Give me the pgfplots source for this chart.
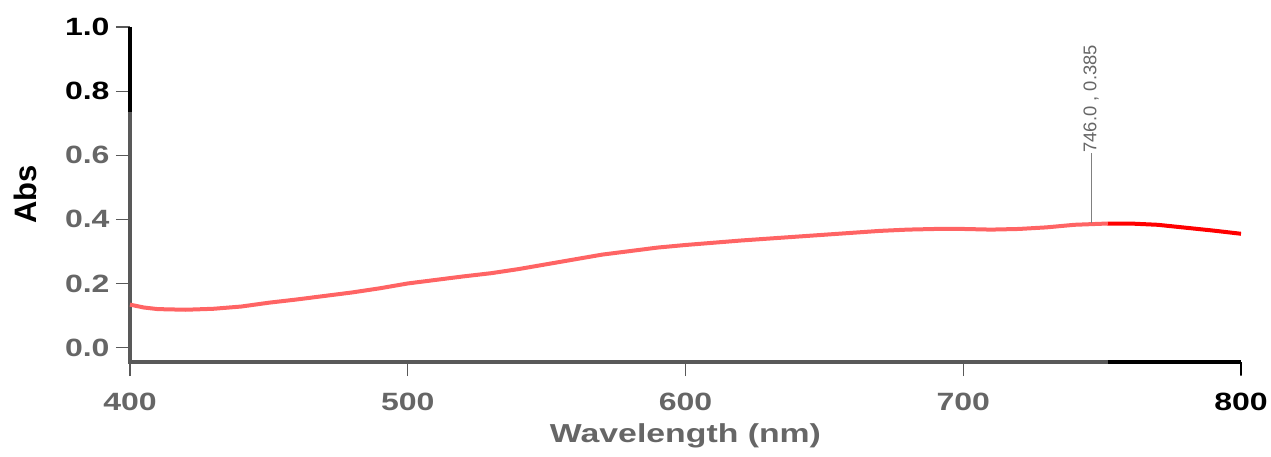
\documentclass[border=0pt]{standalone}
\usepackage{fontspec}
\setmainfont{Liberation Sans}
\usepackage{pgfplots}
\pgfplotsset{compat=1.18}

\definecolor{tgray}{HTML}{666666}
\definecolor{agray}{HTML}{595959}
\definecolor{lred}{HTML}{FF6464}
\definecolor{dred}{HTML}{FF0000}
\definecolor{mgray}{HTML}{808080}

\begin{document}
\begin{tikzpicture}
\begin{axis}[
    scale only axis,
    width=555.5pt, height=167.5pt,
    xmin=400, xmax=800,
    ymin=-0.045, ymax=1.0,
    axis x line=bottom, axis y line=left,
    axis line style={draw=none},
    tick align=outside,
    major tick length=7pt,
    every tick/.style={agray, line width=0.6pt},
    xtick={400,500,600,700,800},
    xticklabels={\textcolor{tgray}{400},\textcolor{tgray}{500},\textcolor{tgray}{600},\textcolor{tgray}{700},800},
    ytick={0,0.2,0.4,0.6,0.8,1.0},
    yticklabels={\textcolor{tgray}{0.0},\textcolor{tgray}{0.2},\textcolor{tgray}{0.4},\textcolor{tgray}{0.6},0.8,1.0},
    ticklabel style={font=\bfseries\fontsize{12.5}{13}\selectfont, xscale=1.28},
    xticklabel style={yshift=-5pt},
    yticklabel style={xshift=1pt},
    xlabel={Wavelength (nm)},
    ylabel={Abs},
    every axis x label/.style={at={(rel axis cs:0.5,-0.239)}, anchor=base,
        font=\bfseries\fontsize{13}{14}\selectfont, xscale=1.3, text=tgray},
    every axis y label/.style={at={(rel axis cs:-0.0945,0.5)}, anchor=center, rotate=90,
        font=\bfseries\fontsize{15.5}{16}\selectfont},
    clip=false,
]
% axis lines, grey where the watermark fades them
\draw[agray, line width=2pt] (axis cs:400,0.735) -- (axis cs:400,-0.045) -- (axis cs:752,-0.045);
\draw[black, line width=2pt] (axis cs:400,1.0) -- (axis cs:400,0.735);
\draw[black, line width=2pt] (axis cs:752,-0.045) -- (axis cs:800,-0.045);
\pgfplotsinvokeforeach{400,500,600,700}{
  \draw[agray, line width=0.6pt] (axis cs:#1,-0.045) -- ([yshift=-6.5pt]axis cs:#1,-0.045);
}
\draw[black, line width=0.6pt] (axis cs:800,-0.045) -- ([yshift=-6.5pt]axis cs:800,-0.045);

\addplot[lred, line width=2pt] coordinates {
(400,0.134)(405,0.125)(410,0.120)(420,0.118)(430,0.121)(440,0.128)
(450,0.140)(460,0.150)(470,0.161)(480,0.172)(490,0.185)(500,0.200)
(510,0.211)(520,0.222)(530,0.232)(540,0.245)(550,0.260)(560,0.275)
(570,0.290)(580,0.301)(590,0.312)(600,0.320)(610,0.327)(620,0.334)
(630,0.340)(640,0.346)(650,0.352)(660,0.358)(670,0.364)(680,0.368)
(690,0.370)(700,0.370)(710,0.368)(720,0.370)(730,0.375)(740,0.383)
(746,0.385)(752,0.387)
};
\addplot[dred, line width=2pt] coordinates {
(752,0.387)(760,0.387)(770,0.383)(780,0.374)(790,0.365)(800,0.355)
};

% peak marker
\draw[mgray, line width=0.5pt] (axis cs:746,0.388) -- (axis cs:746,0.607);
\node[rotate=90, anchor=west, inner sep=0pt, text=tgray,
      font=\fontsize{9.2}{10}\selectfont] at (axis cs:746,0.607) {746.0 , 0.385};

\coordinate (bl) at (rel axis cs:-0.117,-0.2806);
\coordinate (tr) at (rel axis cs:1.027,1.0806);
\end{axis}
\pgfresetboundingbox
\path (bl) rectangle (tr);
\end{tikzpicture}
\end{document}
